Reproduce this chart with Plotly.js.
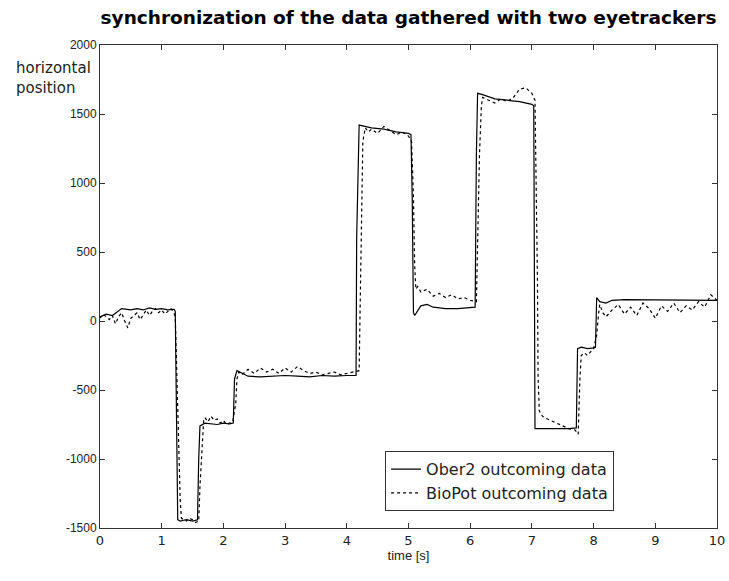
<!DOCTYPE html>
<html>
<head>
<meta charset="utf-8">
<script src="https://cdn.plot.ly/plotly-3.0.1.min.js"></script>
<style>html,body{margin:0;padding:0;background:#fff;}#chart{width:729px;height:581px;}</style>
</head>
<body>
<div id="chart"></div>
<script>
// Ober2 outcoming data (solid)
const oberT = [0,0.1,0.2,0.3,0.35,0.5,0.6,0.7,0.8,0.9,1.0,1.1,1.2,1.22,1.24,1.26,1.3,1.4,1.5,1.58,1.6,1.62,1.7,1.8,1.9,2.0,2.1,2.16,2.18,2.22,2.3,2.4,2.6,2.8,3.0,3.2,3.4,3.6,3.8,4.0,4.15,4.16,4.18,4.2,4.4,4.6,4.8,5.0,5.04,5.06,5.08,5.1,5.2,5.3,5.4,5.6,5.8,6.0,6.08,6.1,6.12,6.2,6.4,6.6,6.8,7.0,7.03,7.05,7.2,7.4,7.6,7.72,7.74,7.8,7.9,8.0,8.03,8.05,8.1,8.2,8.3,8.5,8.8,9.0,9.3,9.6,9.9,10];
const oberV = [30,50,40,70,90,80,90,80,95,85,90,80,85,70,-700,-1440,-1450,-1440,-1450,-1440,-1000,-760,-740,-745,-750,-740,-745,-740,-420,-360,-380,-400,-405,-400,-395,-400,-405,-395,-400,-395,-395,600,1150,1420,1400,1390,1370,1360,1350,900,60,40,110,120,100,90,90,100,100,1200,1650,1640,1610,1600,1590,1570,1560,-780,-780,-785,-780,-775,-200,-190,-200,-195,-190,170,140,130,150,155,155,150,155,150,150,150];

// BioPot outcoming data (dashed)
const bioT = [0,0.05,0.1,0.15,0.2,0.25,0.3,0.35,0.4,0.45,0.5,0.55,0.6,0.65,0.7,0.75,0.8,0.85,0.9,0.95,1.0,1.05,1.1,1.15,1.2,1.22,1.24,1.26,1.28,1.3,1.32,1.35,1.4,1.45,1.5,1.55,1.6,1.62,1.64,1.66,1.68,1.7,1.75,1.8,1.85,1.9,1.95,2.0,2.05,2.1,2.15,2.2,2.22,2.25,2.3,2.4,2.5,2.6,2.7,2.8,2.9,3.0,3.1,3.2,3.3,3.4,3.5,3.6,3.7,3.8,3.9,4.0,4.1,4.2,4.22,4.24,4.26,4.3,4.35,4.4,4.5,4.6,4.7,4.8,4.9,5.0,5.05,5.08,5.1,5.12,5.15,5.2,5.3,5.4,5.5,5.6,5.7,5.8,5.9,6.0,6.1,6.12,6.15,6.18,6.2,6.3,6.4,6.5,6.6,6.7,6.8,6.9,7.0,7.05,7.07,7.09,7.1,7.12,7.15,7.2,7.3,7.4,7.5,7.6,7.7,7.75,7.78,7.8,7.85,7.9,8.0,8.05,8.08,8.1,8.15,8.2,8.3,8.4,8.5,8.6,8.7,8.8,8.9,9.0,9.1,9.2,9.3,9.4,9.5,9.6,9.7,9.8,9.9,10];
const bioV = [20,50,30,10,40,-20,30,60,0,-50,20,40,60,10,50,80,40,70,90,60,80,50,70,90,60,20,-300,-700,-1000,-1300,-1430,-1440,-1450,-1430,-1440,-1460,-1450,-1200,-1000,-800,-720,-700,-730,-690,-720,-710,-740,-720,-750,-740,-730,-600,-420,-370,-390,-350,-380,-340,-370,-350,-380,-340,-370,-330,-360,-380,-370,-390,-380,-370,-390,-380,-370,-360,200,900,1300,1400,1370,1390,1360,1410,1380,1350,1370,1340,1300,900,400,230,250,210,230,180,200,170,190,160,170,150,140,600,1200,1550,1620,1600,1580,1610,1590,1620,1680,1690,1650,1600,1100,300,-400,-650,-680,-700,-720,-740,-760,-780,-790,-820,-400,-250,-230,-250,-200,-100,50,120,60,30,80,120,50,100,40,130,90,20,110,70,130,60,110,80,140,100,190,150];

const xTicks = [0,1,2,3,4,5,6,7,8,9,10];
const yTicks = [-1500,-1000,-500,0,500,1000,1500,2000];

const sans = "'Liberation Sans', Arial, sans-serif";
const wide = "'DejaVu Sans', sans-serif";

const traces = [
  {x: oberT, y: oberV, type: 'scatter', mode: 'lines', name: 'Ober2 outcoming data',
   line: {color: '#000', width: 1.2}},
  {x: bioT, y: bioV, type: 'scatter', mode: 'lines', name: 'BioPot outcoming data',
   line: {color: '#000', width: 1.2, dash: '3px,3px'}}
];

const axisCommon = {
  showgrid: false, zeroline: false, showline: true, linecolor: '#333', linewidth: 1,
  mirror: 'ticks', ticks: 'inside', ticklen: 5, tickcolor: '#333'
};

const layout = {
  width: 729, height: 581,
  margin: {l: 100, r: 12, t: 45, b: 53},
  paper_bgcolor: '#fff', plot_bgcolor: '#fff',
  title: {text: 'synchronization of the data gathered with two eyetrackers',
    font: {family: wide, size: 18.5, color: '#000', weight: 'bold'},
    x: 0.5, xref: 'paper', y: 0.97, yanchor: 'middle'},
  xaxis: Object.assign({}, axisCommon, {range: [0, 10], tickvals: xTicks,
    ticktext: xTicks.map(String),
    tickfont: {family: wide, size: 13, color: '#222'},
    title: {text: 'time [s]', font: {family: sans, size: 13, color: '#222'}, standoff: 0}}),
  yaxis: Object.assign({}, axisCommon, {range: [-1500, 2000], tickvals: yTicks,
    ticktext: yTicks.map(String),
    tickfont: {family: sans, size: 12, color: '#222'}}),
  showlegend: true,
  legend: {x: 0.462, y: 0.159, xanchor: 'left', yanchor: 'top',
    bgcolor: '#fff', bordercolor: '#333', borderwidth: 1, itemwidth: 30,
    font: {family: wide, size: 16, color: '#222'}, tracegroupgap: 0},
  annotations: [
    {text: 'horizontal<br>position', xref: 'paper', yref: 'paper', x: -0.14, y: 0.975,
     xanchor: 'left', yanchor: 'top', align: 'left', showarrow: false,
     font: {family: wide, size: 15, color: '#222'}}
  ]
};

Plotly.newPlot('chart', traces, layout, {displayModeBar: false, staticPlot: true});
</script>
</body>
</html>
